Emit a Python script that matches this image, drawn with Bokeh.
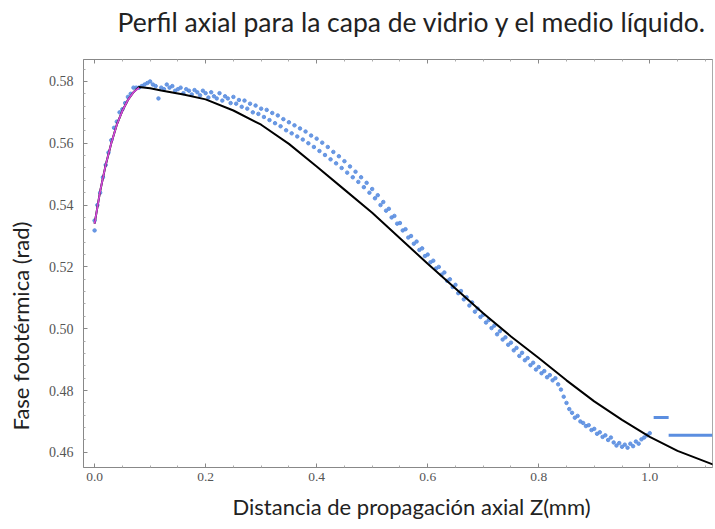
from bokeh.plotting import figure
from bokeh.models import Range1d, LinearAxis, FixedTicker, Title
from bokeh.embed import file_html
from bokeh.resources import INLINE

# Measured photothermal phase along the axial scan
z_data = [0.000, 0.000, 0.005, 0.010, 0.015, 0.020, 0.025, 0.030, 0.035, 0.040, 0.045, 0.050, 0.055, 0.060, 0.065, 0.070, 0.075, 0.080, 0.085, 0.090, 0.095,
          0.100, 0.105, 0.110, 0.115, 0.120, 0.125, 0.130, 0.135, 0.140, 0.145, 0.150, 0.155, 0.160, 0.165, 0.170, 0.175, 0.180, 0.185, 0.190, 0.195,
          0.200, 0.205, 0.210, 0.215, 0.220, 0.225, 0.230, 0.235, 0.240, 0.245, 0.250, 0.255, 0.260, 0.265, 0.270, 0.275, 0.280, 0.285, 0.290, 0.295,
          0.300, 0.305, 0.310, 0.315, 0.320, 0.325, 0.330, 0.335, 0.340, 0.345, 0.350, 0.355, 0.360, 0.365, 0.370, 0.375, 0.380, 0.385, 0.390, 0.395,
          0.400, 0.405, 0.410, 0.415, 0.420, 0.425, 0.430, 0.435, 0.440, 0.445, 0.450, 0.455, 0.460, 0.465, 0.470, 0.475, 0.480, 0.485, 0.490, 0.495,
          0.500, 0.505, 0.510, 0.515, 0.520, 0.525, 0.530, 0.535, 0.540, 0.545, 0.550, 0.555, 0.560, 0.565, 0.570, 0.575, 0.580, 0.585, 0.590, 0.595,
          0.600, 0.605, 0.610, 0.615, 0.620, 0.625, 0.630, 0.635, 0.640, 0.645, 0.650, 0.655, 0.660, 0.665, 0.670, 0.675, 0.680, 0.685, 0.690, 0.695,
          0.700, 0.705, 0.710, 0.715, 0.720, 0.725, 0.730, 0.735, 0.740, 0.745, 0.750, 0.755, 0.760, 0.765, 0.770, 0.775, 0.780, 0.785, 0.790, 0.795,
          0.800, 0.805, 0.810, 0.815, 0.820, 0.825, 0.830, 0.835, 0.840, 0.845, 0.850, 0.855, 0.860, 0.865, 0.870, 0.875, 0.880, 0.885, 0.890, 0.895,
          0.900, 0.905, 0.910, 0.915, 0.920, 0.925, 0.930, 0.935, 0.940, 0.945, 0.950, 0.955, 0.960, 0.965, 0.970, 0.975, 0.980, 0.985, 0.990, 0.995,
          1.000]
phase_data = [0.5318, 0.5350, 0.5400, 0.5440, 0.5490, 0.5530, 0.5570, 0.5610, 0.5650, 0.5670, 0.5700, 0.5710, 0.5730, 0.5750, 0.5760, 0.5780, 0.5780, 0.5780, 0.5785, 0.5790, 0.5795,
              0.5800, 0.5790, 0.5785, 0.5745, 0.5780, 0.5775, 0.5790, 0.5780, 0.5785, 0.5770, 0.5775, 0.5780, 0.5762, 0.5775, 0.5770, 0.5758, 0.5772, 0.5765, 0.5755, 0.5770,
              0.5762, 0.5748, 0.5765, 0.5752, 0.5745, 0.5762, 0.5738, 0.5752, 0.5745, 0.5730, 0.5750, 0.5728, 0.5740, 0.5718, 0.5738, 0.5712, 0.5728, 0.5700, 0.5722, 0.5695,
              0.5712, 0.5685, 0.5708, 0.5675, 0.5698, 0.5665, 0.5690, 0.5655, 0.5678, 0.5642, 0.5668, 0.5632, 0.5658, 0.5622, 0.5648, 0.5612, 0.5638, 0.5600, 0.5625, 0.5588,
              0.5615, 0.5575, 0.5602, 0.5562, 0.5588, 0.5548, 0.5572, 0.5535, 0.5558, 0.5520, 0.5542, 0.5505, 0.5525, 0.5490, 0.5508, 0.5475, 0.5490, 0.5458, 0.5472, 0.5440,
              0.5452, 0.5422, 0.5432, 0.5400, 0.5410, 0.5382, 0.5388, 0.5360, 0.5365, 0.5340, 0.5342, 0.5318, 0.5322, 0.5295, 0.5300, 0.5275, 0.5282, 0.5255, 0.5260, 0.5235,
              0.5240, 0.5215, 0.5220, 0.5195, 0.5200, 0.5175, 0.5182, 0.5155, 0.5160, 0.5135, 0.5142, 0.5115, 0.5122, 0.5095, 0.5102, 0.5075, 0.5085, 0.5055, 0.5065, 0.5038,
              0.5045, 0.5020, 0.5028, 0.5002, 0.5010, 0.4982, 0.4992, 0.4965, 0.4972, 0.4948, 0.4955, 0.4930, 0.4938, 0.4912, 0.4922, 0.4898, 0.4905, 0.4882, 0.4890, 0.4868,
              0.4876, 0.4856, 0.4863, 0.4843, 0.4850, 0.4833, 0.4840, 0.4820, 0.4803, 0.4780, 0.4760, 0.4740, 0.4728, 0.4712, 0.4718, 0.4700, 0.4695, 0.4685, 0.4688, 0.4672,
              0.4676, 0.4660, 0.4665, 0.4650, 0.4655, 0.4640, 0.4648, 0.4632, 0.4622, 0.4630, 0.4618, 0.4625, 0.4615, 0.4628, 0.4620, 0.4635, 0.4628, 0.4642, 0.4648, 0.4655,
              0.4662]

# Flat readings recorded past the end of the scan (start z, end z, phase)
plateau_z0 = [1.007, 1.034]
plateau_z1 = [1.034, 1.113]
plateau_phase = [0.4713, 0.4655]

# Fitted model for the whole profile
z_fit = [0.000, 0.010, 0.020, 0.030, 0.040, 0.050, 0.060, 0.070, 0.080, 0.100, 0.120, 0.160, 0.200, 0.250, 0.300, 0.350, 0.400, 0.450,
         0.500, 0.550, 0.600, 0.650, 0.700, 0.750, 0.800, 0.850, 0.900, 0.950, 1.000, 1.050, 1.115]
phase_fit = [0.5340, 0.5445, 0.5530, 0.5600, 0.5660, 0.5705, 0.5740, 0.5765, 0.5782, 0.5778, 0.5771, 0.5758, 0.5742, 0.5706, 0.5660, 0.5598, 0.5525, 0.5450,
             0.5375, 0.5293, 0.5210, 0.5130, 0.5050, 0.4975, 0.4905, 0.4833, 0.4765, 0.4705, 0.4650, 0.4605, 0.4560]

# Fit of the glass layer (rising part)
z_glass = [0.000, 0.010, 0.020, 0.030, 0.040, 0.050, 0.060, 0.070, 0.080]
phase_glass = [0.5340, 0.5445, 0.5530, 0.5600, 0.5660, 0.5705, 0.5740, 0.5765, 0.5780]

x_ticks = [0.0, 0.2, 0.4, 0.6, 0.8, 1.0]
x_minor = [0.05, 0.10, 0.15, 0.25, 0.30, 0.35, 0.45, 0.50, 0.55, 0.65, 0.70, 0.75, 0.85, 0.90, 0.95, 1.05, 1.10]
y_ticks = [0.46, 0.48, 0.50, 0.52, 0.54, 0.56, 0.58]
y_minor = [0.464, 0.468, 0.472, 0.476, 0.484, 0.488, 0.492, 0.496, 0.504, 0.508, 0.512, 0.516,
           0.524, 0.528, 0.532, 0.536, 0.544, 0.548, 0.552, 0.556, 0.564, 0.568, 0.572, 0.576, 0.584]

TICK_FONT = "Liberation Sans Narrow"
TEXT_FONT = "Lato"
GRAY = "#555555"
INK = "#222222"

p = figure(width=715, height=529, output_backend="svg", toolbar_location=None,
           x_range=Range1d(-0.020, 1.113), y_range=Range1d(0.4551, 0.5871),
           min_border_left=83, min_border_right=3, min_border_top=59, min_border_bottom=62,
           x_axis_location=None, y_axis_location=None)
p.grid.visible = False
p.outline_line_color = "#aaaaaa"
p.background_fill_color = "white"
p.border_fill_color = "white"


def style_axis(ax, ticks, minor):
    ax.ticker = FixedTicker(ticks=ticks, minor_ticks=minor)
    ax.axis_line_color = "#888888"
    ax.major_tick_line_color = "#888888"
    ax.minor_tick_line_color = "#aaaaaa"
    ax.major_tick_in = 4
    ax.major_tick_out = 0
    ax.minor_tick_in = 2
    ax.minor_tick_out = 0
    ax.major_label_text_font = TICK_FONT
    ax.major_label_text_font_size = "13.5px"
    ax.major_label_text_color = GRAY
    ax.major_label_standoff = 6


def spacer(gap):
    # blank panel item that keeps a fixed gap between the frame and a title
    return Title(text=" ", text_font_size="1px", standoff=gap)


xb = LinearAxis()
style_axis(xb, x_ticks, x_minor)
xb.major_label_overrides = {t: f"{t:.1f}" for t in x_ticks}
xb.major_label_standoff = 5
p.add_layout(xb, "below")

# frame ticks along the top edge, no labels
xt = LinearAxis()
style_axis(xt, x_ticks, x_minor)
xt.major_label_text_alpha = 0
xt.major_label_text_font_size = "1px"
xt.major_label_standoff = 0
p.add_layout(xt, "above")

yl = LinearAxis()
style_axis(yl, y_ticks, y_minor)
yl.major_label_overrides = {t: f"{t:.2f}" for t in y_ticks}
yl.major_label_text_font_size = "14px"
yl.major_label_standoff = 10
p.add_layout(yl, "left")

# data and fits
p.scatter(z_data, phase_data, size=3.5, color="#5b8ee0", alpha=0.9)
p.segment(x0=plateau_z0, y0=plateau_phase, x1=plateau_z1, y1=plateau_phase, line_color="#5b8ee0", line_width=3)
p.line(z_fit, phase_fit, line_color="black", line_width=2)
p.line(z_glass, phase_glass, line_color="#d048d8", line_width=1.8)

# title and axis titles
p.add_layout(spacer(17), "above")
p.add_layout(Title(text="Perfil axial para la capa de vidrio y el medio líquido.",
                   text_font=TEXT_FONT, text_font_size="26.5px", text_font_style="normal",
                   text_color=INK, align="left", offset=34, standoff=4), "above")
p.add_layout(Title(text="Distancia de propagación axial Z(mm)",
                   text_font=TEXT_FONT, text_font_size="22px", text_font_style="normal",
                   text_color=INK, align="left", offset=149, standoff=14), "below")
p.add_layout(spacer(7), "left")
p.add_layout(Title(text="Fase fototérmica (rad)",
                   text_font=TEXT_FONT, text_font_size="22px", text_font_style="normal",
                   text_color=INK, align="left", offset=37, standoff=4), "left")

open("out.html", "w").write(file_html(p, INLINE))
